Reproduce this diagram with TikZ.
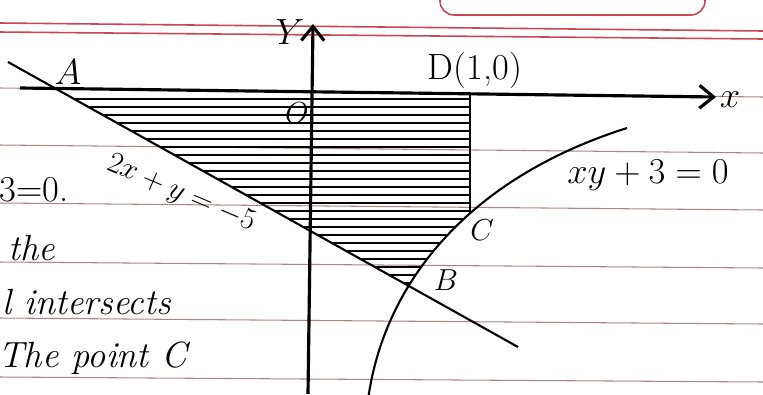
\documentclass[tikz,border=0pt]{standalone}
\usepackage{amsfonts, amsmath, amssymb}
\usepackage{tikz}
\usetikzlibrary{arrows.meta}
\definecolor{rulecol}{RGB}{150,105,100}
\definecolor{margincol}{RGB}{200,70,85}
\tikzset{
  ruled/.style={draw=rulecol, line width=0.6pt, opacity=0.8},
  margin/.style={draw=margincol, line width=0.9pt},
  axis/.style={line width=1.8pt, -{Straight Barb[length=8pt,width=13pt]}},
  curve/.style={line width=1.2pt},
  hatch/.style={line width=0.9pt}
}

\begin{document}
\begin{tikzpicture}[thick, x=0.2mm, y=-0.2mm, every node/.style={inner sep=1pt}]
  \useasboundingbox (0,0) rectangle (763,394);
  \fill[white] (0,0) rectangle (763,394);

  \draw[margin, rounded corners=8pt] (440,-20) -- (440,15) -- (705,15) -- (705,-20);
  \draw[margin] (0,23) -- (763,31);
  \draw[margin] (0,32) -- (763,39);
  \foreach \y/\z in {88/97, 145/153, 203/210, 262/268, 318/324, 377/382}
    \draw[ruled] (0,\y) -- (763,\z);

  \coordinate (Xl) at (20,88);
  \coordinate (Xr) at (716,97);
  \coordinate (Yb) at (308,394);
  \coordinate (Yt) at (313,24);
  \coordinate (L1) at (8,62);
  \coordinate (L2) at (518,347);
  \coordinate (A) at (55,88);
  \coordinate (D) at (470,94);
  \coordinate (C) at (470,213);
  \coordinate (B) at (409,285);
  \coordinate (H1) at (368,400);
  \coordinate (H2) at (627,128);

  \begin{scope}
    \clip (A) -- (D) -- (470,320) -- cycle;
    \clip (H1) .. controls (383,288) and (463,180) .. (H2) -- (627,0) -- (0,0) -- (0,400) -- cycle;
    \foreach \y in {99,107,...,283}
      \draw[hatch] (40,\y) -- (480,\y);
  \end{scope}

  \draw[axis] (Xl) -- (Xr);
  \draw[axis] (Yb) -- (Yt);
  \draw[curve] (L1) -- (L2);
  \draw[curve] (D) -- (C);
  \draw[curve] (H1) .. controls (383,288) and (463,180) .. (H2);

  \node (labY) at (290,32) {{\huge $Y$}};
  \node (labx) at (730,100) {{\huge $x$}};
  \node (labO) at (297,113) {{\LARGE $O$}};
  \node (labA) at (68,72) {{\huge $A$}};
  \node (labD) at (475,70) {{\huge D(1,0)}};
  \node (labC) at (482,230) {{\LARGE $C$}};
  \node (labB) at (446,280) {{\LARGE $B$}};
  \node (labH) at (648,175) {{\huge $xy+3=0$}};
  \node[rotate=-23] (labL) at (181,194) {{\LARGE $2x+y=-5$}};

  \node[anchor=west] (t1) at (-3,190) {{\huge 3=0.}};
  \node[anchor=west] (t2) at (6,248) {{\huge\itshape the}};
  \node[anchor=west] (t3) at (0,302) {{\huge\itshape l intersects}};
  \node[anchor=west] (t4) at (-4,358) {{\huge\itshape The point C}};
\end{tikzpicture}
\end{document}
